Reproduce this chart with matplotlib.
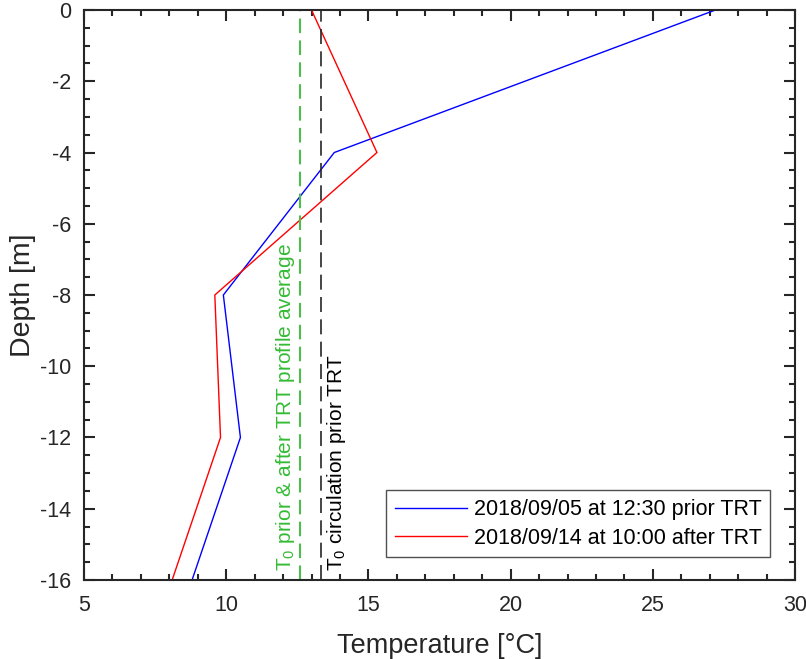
import matplotlib
matplotlib.use("Agg")
import matplotlib.pyplot as plt
from matplotlib.ticker import MultipleLocator

plt.rcParams['font.family'] = ['Liberation Sans', 'DejaVu Sans']
plt.rcParams['mathtext.fontset'] = 'custom'
plt.rcParams['mathtext.rm'] = 'Liberation Sans'
plt.rcParams['axes.unicode_minus'] = False

depth = [0, -4, -8, -12, -16]
temp_prior = [27.2, 13.8, 9.9, 10.5, 8.8]
temp_after = [13.0, 15.3, 9.6, 9.8, 8.1]
t0_average = 12.6
t0_circulation = 13.35
labels = ["2018/09/05 at 12:30 prior TRT", "2018/09/14 at 10:00 after TRT"]

fig = plt.figure(figsize=(8.06, 6.59), dpi=100)
ax = fig.add_axes([0.1042, 0.1199, 0.8822, 0.8649])

ax.plot(temp_prior, depth, color='#0000ff', lw=1.0, label=labels[0])
ax.plot(temp_after, depth, color='#ff0000', lw=1.0, label=labels[1])
ax.axvline(t0_average, color='#4dbe4d', lw=1.5, dashes=(7, 3.5))
ax.axvline(t0_circulation, color='#262626', lw=1.2, dashes=(9, 4.4))

ax.text(t0_average - 0.12, -15.75, r"$\mathregular{T_0}$ prior & after TRT profile average",
        rotation=90, color='#33bb33', fontsize=15, ha='right', va='bottom')
ax.text(t0_circulation + 0.12, -15.75, r"$\mathregular{T_0}$ circulation prior TRT",
        rotation=90, color='black', fontsize=15, ha='left', va='bottom')

ax.set_xlim(5, 30)
ax.set_ylim(-16, 0)
ax.xaxis.set_major_locator(MultipleLocator(5))
ax.xaxis.set_minor_locator(MultipleLocator(1))
ax.yaxis.set_major_locator(MultipleLocator(2))
ax.yaxis.set_minor_locator(MultipleLocator(0.5))
ax.tick_params(which='both', direction='in', top=True, right=True, width=1.5, color='#262626',
               labelsize=15.5, labelcolor='#262626')
ax.tick_params(which='major', length=8)
ax.tick_params(axis='x', which='major', pad=11)
ax.tick_params(axis='y', which='major', pad=9)
ax.tick_params(which='minor', length=4.5)
for s in ax.spines.values():
    s.set_linewidth(1.5)
    s.set_color('#262626')

ax.set_xlabel("Temperature [°C]", fontsize=19.5, color='#262626', labelpad=12)
ax.set_ylabel("Depth [m]", fontsize=20.5, color='#262626', labelpad=3)

leg = ax.legend(loc='lower right', bbox_to_anchor=(0.965, 0.04), fontsize=15.5, frameon=True,
                fancybox=False, edgecolor='#262626', handlelength=3.35, borderpad=0.4,
                labelspacing=0.35, handletextpad=0.3, borderaxespad=0)
leg.get_frame().set_linewidth(1.0)

fig.savefig("out.png", dpi=100)
